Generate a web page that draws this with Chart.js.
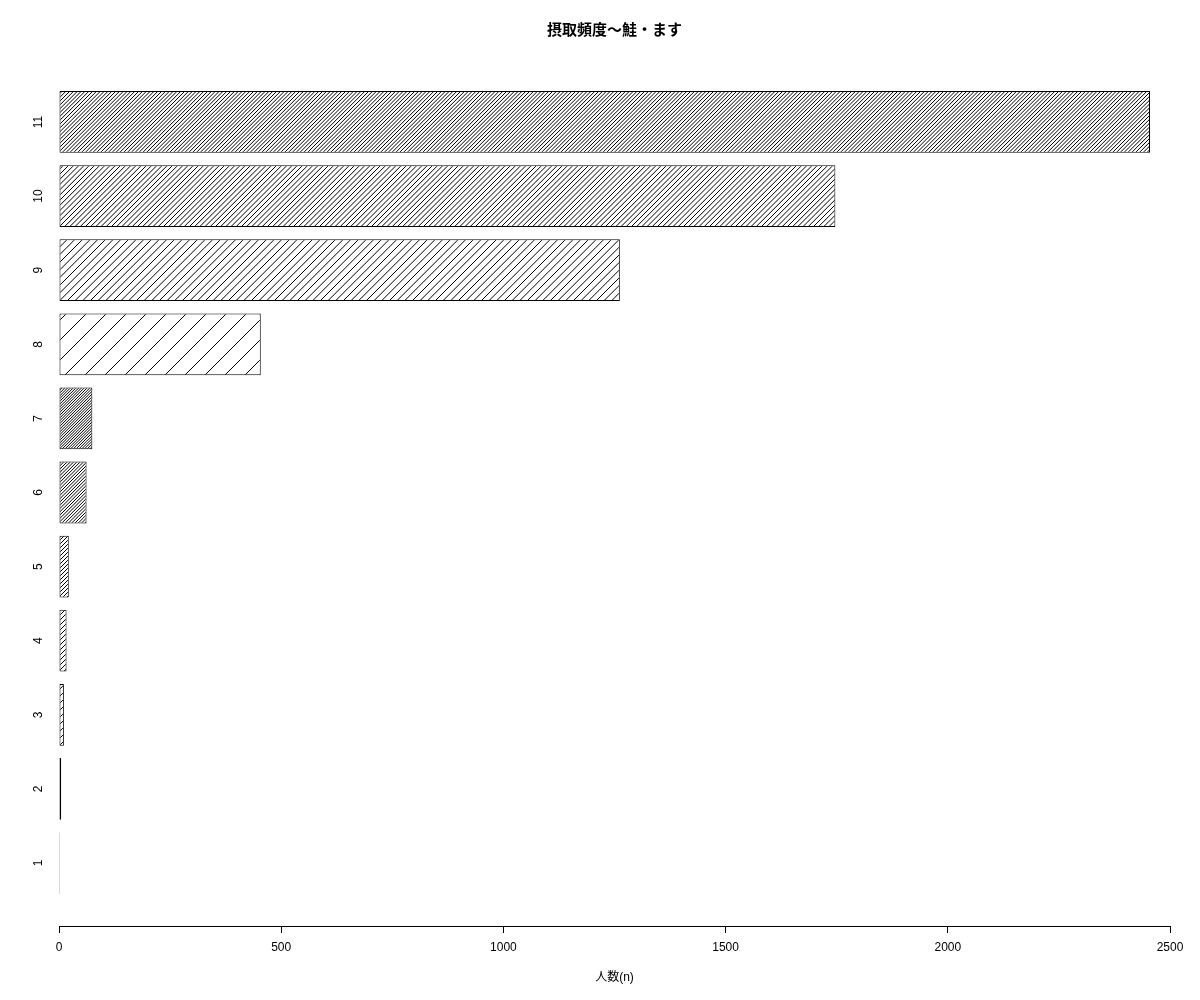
<!DOCTYPE html>
<html><head><meta charset="utf-8">
<script src="https://cdn.jsdelivr.net/npm/chart.js@4/dist/chart.umd.min.js"></script>
<style>html,body{margin:0;padding:0;background:#fff}canvas{display:block}</style>
</head><body>
<canvas id="c" width="1200" height="1000"></canvas>
<script>
// ---- data ----
const categories = ['1','2','3','4','5','6','7','8','9','10','11'];
const counts = [2, 5, 11, 17, 22, 62, 75, 454, 1262, 1747, 2455];
const xTicks = [0, 500, 1000, 1500, 2000, 2500];
const titleText = '摂取頻度〜鮭・ます';
const xTitle = '人数(n)';

// ---- style ----
const hatchSpacing = [10, 12, 7, 5, 4, 3.3, 2.75, 20, 7.7, 5.1, 3.9];
const FONT = "'Liberation Sans', 'Noto Sans CJK JP', Arial, sans-serif";

function hatch(spacing) {
  const n = Math.max(1, Math.round(24 / spacing));
  const T = Math.max(2, Math.round(spacing * n));
  const c = document.createElement('canvas');
  c.width = T; c.height = T;
  const g = c.getContext('2d');
  g.fillStyle = '#fff'; g.fillRect(0, 0, T, T);
  g.strokeStyle = '#000'; g.lineWidth = 1;
  g.beginPath();
  for (let k = -n; k <= n; k++) {
    const x0 = k * T / n;
    g.moveTo(x0, T); g.lineTo(x0 + T, 0);
  }
  g.stroke();
  return g.createPattern(c, 'repeat');
}

const centers = categories.map((_, i) => 0.7 + 1.2 * i);
const patterns = hatchSpacing.map(hatch);

Chart.defaults.font.family = FONT;
Chart.defaults.color = '#000';

new Chart(document.getElementById('c').getContext('2d'), {
  type: 'bar',
  data: {
    datasets: [{
      data: counts.map((v, i) => ({ x: v, y: centers[i] })),
      backgroundColor: patterns,
      borderColor: '#000',
      borderWidth: 1,
      borderSkipped: false,
      categoryPercentage: 1,
      barPercentage: 1 / 1.2
    }]
  },
  options: {
    indexAxis: 'y',
    responsive: false,
    animation: false,
    devicePixelRatio: 1,
    layout: { padding: { left: 0, right: 30, top: 0, bottom: 0 } },
    plugins: {
      legend: { display: false },
      tooltip: { enabled: false },
      title: {
        display: true, text: titleText, fullSize: false, color: '#000',
        font: { size: 15, weight: 'bold', family: FONT, lineHeight: 1.2 },
        padding: { top: 22, bottom: 19 }
      }
    },
    scales: {
      x: {
        type: 'linear', min: 0, max: 2500, position: 'bottom',
        afterBuildTicks: s => { s.ticks = xTicks.map(v => ({ value: v })); },
        grid: { display: true, drawOnChartArea: false, drawTicks: true, tickLength: 7, color: '#000', lineWidth: 1 },
        border: { display: true, color: '#000', width: 1 },
        ticks: { callback: v => String(v), padding: 7.5, color: '#000', font: { size: 12, family: FONT }, maxRotation: 0, autoSkip: false },
        title: { display: true, text: xTitle, color: '#000', font: { size: 12, family: FONT, lineHeight: 1.2 }, padding: { top: 0, bottom: 15 } },
        afterFit: s => { s.height = 74; }
      },
      y: {
        type: 'linear', min: -0.32, max: 13.72, offset: false,
        afterBuildTicks: s => { s.ticks = centers.map(v => ({ value: v })); },
        ticks: {
          callback: (v, i) => categories[i],
          minRotation: 90, maxRotation: 90, crossAlign: 'center',
          padding: 14, autoSkip: false, color: '#000', font: { size: 12, family: FONT }
        },
        grid: { display: false, drawTicks: false },
        border: { display: false },
        afterFit: s => { s.width = 59; }
      }
    }
  }
});
</script>
</body></html>
